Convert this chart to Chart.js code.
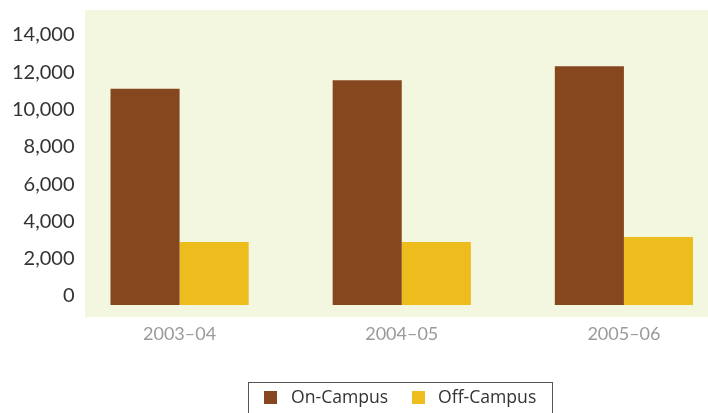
<!DOCTYPE html>
<html>
<head>
<meta charset="utf-8">
<script src="https://cdn.jsdelivr.net/npm/chart.js@4.4.1/dist/chart.umd.min.js"></script>
<style>
  html, body { margin: 0; padding: 0; overflow: hidden; background: #fff; width: 708px; height: 413px; }
  #wrap { position: absolute; left: 0; top: 0; width: 735px; height: 413px; }
  #legend { position: absolute; left: 248px; top: 382px; width: 305px; height: 40px;
            border: 1.5px solid #555; box-sizing: border-box; font-family: "Open Sans", sans-serif;
            font-size: 17.6px; color: #333; }
  #legend .sq { position: absolute; width: 13px; height: 13px; top: 8px; }
  #legend .tx { position: absolute; top: 3px; line-height: 20px; white-space: nowrap; }
</style>
</head>
<body>
<div id="wrap"><canvas id="chart"></canvas></div>
<div id="legend"></div>
<script>
const categories = ['2003–04', '2004–05', '2005–06'];
const onCampus = [11600, 12050, 12800];
const offCampus = [3380, 3380, 3650];
const yTicks = [0, 2000, 4000, 6000, 8000, 10000, 12000, 14000];
const seriesNames = ['On-Campus', 'Off-Campus'];
const seriesColors = ['#86471e', '#edbd1e'];

// light green panel behind the bars
const panelBg = {
  id: 'panelBg',
  beforeDraw(chart) {
    const a = chart.chartArea;
    const ctx = chart.ctx;
    ctx.save();
    ctx.fillStyle = '#f4f7df';
    ctx.fillRect(a.left + 4.5, a.top, chart.width - a.left - 4.5, a.bottom - a.top);
    ctx.restore();
  }
};

// x is a linear index axis so the groups can sit where the original puts them
const toPoints = arr => arr.map((v, i) => ({ x: i, y: v }));

const ctx = document.getElementById('chart').getContext('2d');
const myChart = new Chart(ctx, {
  type: 'bar',
  data: {
    datasets: [
      { label: seriesNames[0], data: toPoints(onCampus), backgroundColor: seriesColors[0], borderWidth: 0 },
      { label: seriesNames[1], data: toPoints(offCampus), backgroundColor: seriesColors[1], borderWidth: 0 }
    ]
  },
  options: {
    responsive: true,
    maintainAspectRatio: false,
    animation: false,
    layout: { padding: { top: 10, left: 0, right: 0, bottom: 0 } },
    datasets: { bar: { categoryPercentage: 0.622, barPercentage: 1 } },
    plugins: {
      legend: { display: false },
      tooltip: { enabled: false }
    },
    scales: {
      x: {
        type: 'linear',
        offset: false,
        min: -0.446,
        max: 2.5,
        grid: { display: false, drawTicks: false, offset: false },
        border: { display: false },
        afterBuildTicks: scale => { scale.ticks = categories.map((c, i) => ({ value: i })); },
        afterFit: scale => { scale.height = 96; scale.paddingLeft = 0; scale.paddingRight = 0; },
        ticks: {
          color: '#9a9a9a',
          font: { family: 'Lato', size: 18 },
          padding: 6,
          callback: v => categories[v]
        }
      },
      y: {
        min: -643,
        max: 15818,
        grid: { display: false, drawTicks: false },
        border: { display: false },
        afterBuildTicks: scale => { scale.ticks = yTicks.map(v => ({ value: v })); },
        afterFit: scale => { scale.width = 80.5; scale.paddingTop = 0; scale.paddingBottom = 0; },
        ticks: {
          color: '#333',
          font: { family: 'Lato', size: 20 },
          padding: 6,
          labelOffset: -9,
          callback: v => v.toLocaleString('en-US')
        }
      }
    }
  },
  plugins: [panelBg]
});

// legend in a bordered box, built from the series names and colours
const legend = document.getElementById('legend');
const sqLeft = [15, 163];
const txLeft = [42, 189];
seriesNames.forEach((name, i) => {
  const sq = document.createElement('div');
  sq.className = 'sq';
  sq.style.left = sqLeft[i] + 'px';
  sq.style.background = seriesColors[i];
  legend.appendChild(sq);
  const tx = document.createElement('div');
  tx.className = 'tx';
  tx.style.left = txLeft[i] + 'px';
  tx.textContent = name;
  legend.appendChild(tx);
});
</script>
</body>
</html>
